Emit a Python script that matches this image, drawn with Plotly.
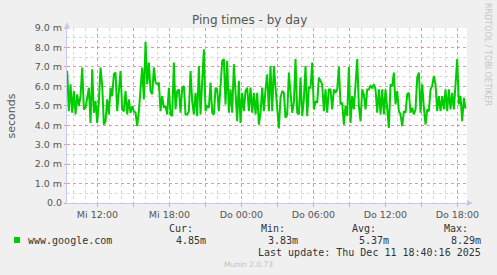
import pandas as pd
import plotly.graph_objects as go

# ---------------- data (ping time, milliseconds) ----------------
series_name = "www.google.com"
start_time = "2025-12-10 09:29:00"
sample_step = "500s"

ping_ms_wed_morning = [
    6.80, 4.72, 6.10, 4.64, 5.76, 4.55, 5.59, 4.98, 5.50, 6.97, 4.81, 4.90,
    5.41, 5.93, 4.12, 6.88, 4.64, 5.24, 4.12, 5.24, 6.97, 6.02, 4.03, 4.21,
    5.33, 4.55, 5.93, 5.50, 6.62, 6.71, 4.72, 6.02, 6.79, 4.81, 4.72, 5.76,
    4.55, 5.33, 4.64, 4.98, 4.72, 4.64, 3.95, 4.72, 5.93, 6.97, 5.33, 8.29,
    6.10, 7.22, 5.76, 5.59, 6.97, 6.19, 6.10, 6.19, 4.72, 5.50, 4.90, 4.98,
    4.55,
]
ping_ms_wed_evening = [
    5.93, 4.55, 4.47, 7.22, 4.81, 5.76, 5.84, 4.64, 5.93, 6.02, 4.55, 4.55,
    4.72, 6.79, 5.24, 4.55, 5.67, 4.47, 7.05, 4.55, 6.10, 7.91, 4.72, 4.98,
    4.90, 6.19, 4.64, 4.55, 5.93, 5.84, 4.72, 6.10, 7.31, 7.40, 5.07, 7.31,
    4.64, 5.84, 4.64, 7.14, 5.93, 4.21, 6.28, 4.12, 5.67, 4.72, 5.76, 5.93,
    4.72, 5.93, 4.64, 5.67, 4.55, 5.67, 4.03, 4.64, 5.93, 4.72, 5.84, 6.62,
]
ping_ms_thu_night = [
    4.72, 7.05, 4.72, 7.05, 5.93, 4.72, 3.83, 5.41, 5.76, 5.67, 4.38, 4.55,
    6.71, 5.67, 4.64, 5.16, 7.40, 4.64, 4.55, 6.45, 4.47, 5.33, 7.05, 4.47,
    5.93, 5.93, 7.22, 4.81, 5.24, 5.16, 6.45, 6.28, 6.10, 4.72, 5.84, 4.64,
    5.84, 5.84, 4.81, 5.84, 5.67, 5.84, 7.00, 5.07, 5.16, 4.03, 4.98, 4.47,
    7.00, 4.12, 5.50, 4.81, 6.36, 7.40, 4.98, 4.21, 5.84, 5.59, 4.81, 5.84,
]
ping_ms_thu_day = [
    5.84, 6.02, 5.93, 6.10, 5.84, 4.64, 5.84, 4.55, 5.84, 4.55, 5.84, 4.64,
    3.86, 6.10, 6.02, 6.71, 5.07, 5.76, 4.72, 4.55, 3.95, 4.72, 4.64, 5.59,
    5.67, 4.64, 4.90, 4.55, 4.81, 6.45, 6.71, 4.64, 6.10, 4.90, 4.03, 4.81,
    4.72, 5.84, 6.02, 6.53, 6.10, 4.72, 5.50, 4.72, 5.50, 4.81, 5.84, 4.72,
    5.84, 4.81, 5.67, 4.81, 6.36, 7.40, 5.07, 5.50, 4.21, 5.41, 4.85,
]

x_range = ["2025-12-10 09:28:00", "2025-12-11 18:48:00"]
x_tick_vals = [
    "2025-12-10 12:00", "2025-12-10 15:00", "2025-12-10 18:00",
    "2025-12-10 21:00", "2025-12-11 00:00", "2025-12-11 03:00",
    "2025-12-11 06:00", "2025-12-11 09:00", "2025-12-11 12:00",
    "2025-12-11 15:00", "2025-12-11 18:00",
]
x_tick_text = ["Mi 12:00", "", "Mi 18:00", "", "Do 00:00", "",
               "Do 06:00", "", "Do 12:00", "", "Do 18:00"]
y_tick_vals = [0, 1, 2, 3, 4, 5, 6, 7, 8, 9]
y_tick_text = ["0.0", "1.0 m", "2.0 m", "3.0 m", "4.0 m", "5.0 m",
               "6.0 m", "7.0 m", "8.0 m", "9.0 m"]

legend_labels = ["Cur:", "Min:", "Avg:", "Max:"]
legend_values = ["4.85m", "3.83m", "5.37m", "8.29m"]
last_update = "Last update: Thu Dec 11 18:40:16 2025"
title_text = "Ping times - by day"

# ---------------- build ----------------
values = ping_ms_wed_morning + ping_ms_wed_evening + ping_ms_thu_night + ping_ms_thu_day
times = pd.date_range(start=start_time, periods=len(values), freq=sample_step)

W, H = 497, 275
L, R, T, B = 67, 30, 28, 72
PW, PH = W - L - R, H - T - B


def px(x):
    return (x - L) / PW


def py(y):
    return (H - B - y) / PH


fig = go.Figure()
fig.add_trace(go.Scatter(x=times, y=values, mode="lines",
                         line=dict(color="#00CC00", width=2),
                         name=series_name, showlegend=False))

major = "rgba(225,140,140,0.8)"
minor = "rgba(185,185,185,0.55)"
axis_col = "#C8C8F0"

fig.update_layout(
    width=W, height=H,
    margin=dict(l=L, r=R, t=T, b=B),
    paper_bgcolor="#F0F0F0",
    plot_bgcolor="#FFFFFF",
    font=dict(family="DejaVu Sans", color="#555555"),
    showlegend=False,
)
fig.update_xaxes(
    range=x_range, tickmode="array", tickvals=x_tick_vals, ticktext=x_tick_text,
    showgrid=True, gridcolor=major, griddash="dot", gridwidth=1,
    ticks="outside", ticklen=3, tickcolor=major,
    tickfont=dict(size=9.5, color="#555555"),
    showline=True, linecolor=axis_col, linewidth=1, zeroline=False,
    minor=dict(tickmode="linear", tick0="2025-12-10 00:00", dtick=3600000,
               showgrid=True, gridcolor=minor, griddash="dot", gridwidth=1,
               ticks=""),
)
fig.update_yaxes(
    range=[0, 9.0], tickmode="array", tickvals=y_tick_vals, ticktext=y_tick_text,
    showgrid=True, gridcolor=major, griddash="dot", gridwidth=1,
    ticks="outside", ticklen=2, tickcolor=major,
    tickfont=dict(size=9.5, color="#555555"),
    showline=True, linecolor=axis_col, linewidth=1, zeroline=False,
    minor=dict(tickmode="linear", tick0=0, dtick=0.5,
               showgrid=True, gridcolor=minor, griddash="dot", gridwidth=1,
               ticks=""),
)

# axis arrows
fig.add_shape(type="path", xref="paper", yref="paper", xsizemode="pixel",
              ysizemode="pixel", xanchor=0, yanchor=1,
              path="M -3,-1 L 3,-1 L 0,6 Z",
              fillcolor=axis_col, line=dict(width=0), layer="above")
fig.add_shape(type="path", xref="paper", yref="paper", xsizemode="pixel",
              ysizemode="pixel", xanchor=1, yanchor=0,
              path="M 0,-3 L 0,3 L 6,0 Z",
              fillcolor=axis_col, line=dict(width=0), layer="above")

ann = []
ann.append(dict(text=title_text, x=px(249), y=py(20), xanchor="center",
                yanchor="middle", font=dict(size=12, color="#555555")))
ann.append(dict(text="seconds", x=px(11), y=py(115.5), xanchor="center",
                yanchor="middle", textangle=-90,
                font=dict(size=11, color="#555555")))
ann.append(dict(text="RRDTOOL / TOBI OETIKER", x=px(488), y=py(54),
                xanchor="center", yanchor="middle", textangle=90,
                font=dict(size=8, color="#C4C4C4")))
mono = "DejaVu Sans Mono"
label_right = [195, 287, 378, 470]
value_right = [208, 300, 391, 483]
for lab, xr in zip(legend_labels, label_right):
    ann.append(dict(text=lab, x=px(xr), y=py(228), xanchor="right",
                    yanchor="middle", font=dict(family=mono, size=10, color="#333333")))
for val, xr in zip(legend_values, value_right):
    ann.append(dict(text=val, x=px(xr), y=py(240), xanchor="right",
                    yanchor="middle", font=dict(family=mono, size=10, color="#333333")))
ann.append(dict(text=series_name, x=px(26), y=py(240), xanchor="left",
                yanchor="middle", font=dict(family=mono, size=10, color="#333333")))
ann.append(dict(text=last_update, x=px(483), y=py(252), xanchor="right",
                yanchor="middle", font=dict(family=mono, size=10, color="#333333")))
ann.append(dict(text="Munin 2.0.73", x=px(248), y=py(264), xanchor="center",
                yanchor="middle", font=dict(size=7.5, color="#C0C0C0")))
for a in ann:
    a.update(xref="paper", yref="paper", showarrow=False)
fig.update_layout(annotations=ann)

# legend colour box
fig.add_shape(type="rect", xref="paper", yref="paper",
              x0=px(14), x1=px(20), y0=py(243), y1=py(237),
              fillcolor="#00CC00", line=dict(width=0))

fig.write_html("out.html")
